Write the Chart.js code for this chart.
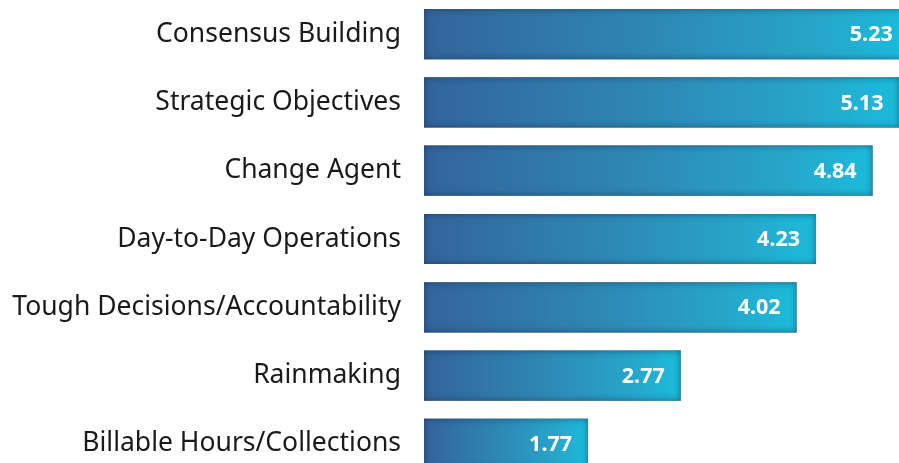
<!DOCTYPE html>
<html>
<head>
<meta charset="utf-8">
<script src="https://cdn.jsdelivr.net/npm/chart.js@4/dist/chart.umd.min.js"></script>
<style>
  html, body { margin: 0; padding: 0; background: #ffffff; overflow: hidden; }
  #wrap { position: relative; width: 899px; height: 478px; }
</style>
</head>
<body>
<div id="wrap"><canvas id="c" width="899" height="478"></canvas></div>
<script>
const categories = [
  "Consensus Building",
  "Strategic Objectives",
  "Change Agent",
  "Day-to-Day Operations",
  "Tough Decisions/Accountability",
  "Rainmaking",
  "Billable Hours/Collections"
];
const values = [5.23, 5.13, 4.84, 4.23, 4.02, 2.77, 1.77];
const valueLabels = ["5.23", "5.13", "4.84", "4.23", "4.02", "2.77", "1.77"];

function barGradient(context) {
  const chart = context.chart;
  if (!chart.chartArea) return '#2f7fb0';
  const xs = chart.scales.x;
  const x0 = xs.getPixelForValue(0);
  const x1 = xs.getPixelForValue(context.raw);
  const g = chart.ctx.createLinearGradient(x0, 0, x1, 0);
  g.addColorStop(0, '#33649b');
  g.addColorStop(0.47, '#2e88b4');
  g.addColorStop(0.8, '#27a5c9');
  g.addColorStop(1, '#1bbcdc');
  return g;
}

const innerShadow = {
  id: 'innerShadow',
  afterDatasetsDraw(chart) {
    const ctx = chart.ctx;
    const area = chart.chartArea;
    const meta = chart.getDatasetMeta(0);
    meta.data.forEach((bar, i) => {
      const left = Math.min(bar.base, bar.x);
      const right = Math.max(bar.base, bar.x);
      const top = bar.y - bar.height / 2;
      const h = bar.height;
      const w = right - left;
      ctx.save();
      ctx.beginPath();
      ctx.rect(area.left, area.top, area.right - area.left, area.bottom - area.top);
      ctx.clip();
      ctx.beginPath();
      ctx.rect(left, top, w, h);
      ctx.clip();
      ctx.beginPath();
      ctx.rect(left - 60, top - 60, w + 120, h + 120);
      ctx.rect(left, top, w, h);
      ctx.shadowColor = 'rgba(15, 35, 70, 0.55)';
      ctx.shadowBlur = 7;
      ctx.fillStyle = '#1a3050';
      ctx.fill('evenodd');
      ctx.restore();

      ctx.save();
      ctx.fillStyle = '#ffffff';
      ctx.font = 'bold 21.5px "Noto Sans"';
      ctx.textAlign = 'right';
      ctx.textBaseline = 'middle';
      ctx.fillText(valueLabels[i], bar.x - 16, bar.y + 1);
      ctx.restore();
    });
  }
};

new Chart(document.getElementById('c'), {
  type: 'bar',
  data: {
    labels: categories,
    datasets: [{
      data: values,
      backgroundColor: barGradient,
      borderWidth: 0,
      barPercentage: 0.735,
      categoryPercentage: 1.0
    }]
  },
  options: {
    indexAxis: 'y',
    responsive: false,
    animation: false,
    events: [],
    layout: { padding: 0 },
    plugins: {
      legend: { display: false },
      tooltip: { enabled: false },
      title: { display: false }
    },
    scales: {
      x: {
        display: false,
        min: 0,
        max: 5.125
      },
      y: {
        grid: { display: false },
        border: { display: false },
        ticks: {
          color: '#1a1a1a',
          padding: 15,
          font: { family: '"Noto Sans"', size: 26.5 }
        },
        afterFit(scale) {
          scale.width = 424;
          scale.paddingTop = 0;
          scale.paddingBottom = 0;
        }
      }
    }
  },
  plugins: [innerShadow]
});
</script>
</body>
</html>
